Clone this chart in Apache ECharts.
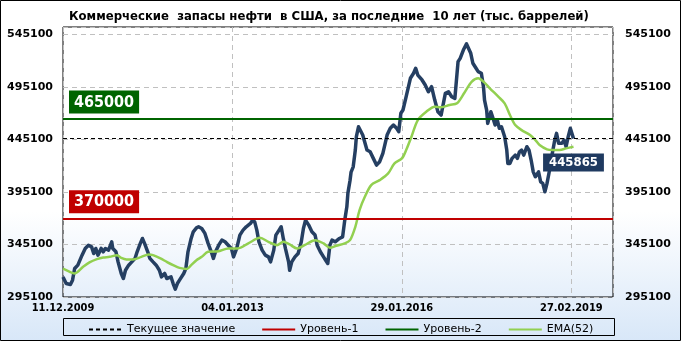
<!DOCTYPE html>
<html><head><meta charset="utf-8">
<script src="https://cdn.jsdelivr.net/npm/echarts@6/dist/echarts.min.js"></script>
<style>html,body{margin:0;padding:0;background:#fff}#c{width:681px;height:341px}</style>
</head><body><div id="c"></div>
<script>
// x positions are weeks since 11.12.2009
const tickLabels = ['11.12.2009', '04.01.2013', '29.01.2016', '27.02.2019'];
const stockWeeks = [0,3,7,9,11,14,18,21,24,27,29,31,33,36,38,40,43,46,47,50,52,55,57,59,62,65,68,70,73,75,77,80,82,85,88,91,93,96,98,102,104,106,108,110,114,116,118,121,123,126,128,131,134,137,140,142,144,147,150,153,156,159,161,164,167,170,173,177,179,181,183,185,188,191,194,196,199,201,204,206,208,210,213,214,216,219,222,225,227,229,232,235,238,240,243,246,248,250,252,254,257,259,261,264,266,268,269,271,272,274,276,277,279,280,283,287,290,293,296,299,302,306,309,312,315,317,319,321,324,328,331,333,335,339,342,345,348,351,354,357,361,364,367,370,373,375,378,381,385,387,390,392,395,397,398,400,401,404,406,408,410,412,414,417,419,420,422,424,427,429,431,433,435,438,440,442,444,446,449,451,453,455,457,460,462,464,466,468,471,473,475,477,479,482];
const stockValues = [314200,307900,307000,311100,322200,325400,334900,341300,344400,342800,336500,341300,334900,341300,338100,341300,339700,347600,341300,338100,328500,317500,312700,320600,325400,328500,331800,338100,346100,350800,346100,338100,331800,328500,325400,320600,314200,317500,312700,314200,307900,302500,307900,311100,317500,322200,338100,350800,357100,360900,361900,360300,355600,346100,338100,331800,338100,344400,349200,347600,344400,341300,333300,341300,354000,358700,361900,365100,368200,366600,358700,347600,339700,334900,333300,328500,339700,354000,358700,361900,350800,341300,328500,320600,328500,333300,336500,347600,360300,368200,363500,357100,354000,344400,338100,333300,330100,327000,344400,349200,347600,349200,350800,352300,368000,380900,393900,406000,414000,419000,434900,447600,457100,458700,449200,434900,433300,427000,420600,423800,431800,449200,455600,458700,455600,452400,469900,473000,485700,503200,508000,512700,506300,501600,496800,490400,495200,482500,471400,468200,488900,490400,485700,484100,519000,522200,530100,535900,527000,517500,512700,509500,508000,495200,482500,473000,460300,471400,465100,458700,463500,455600,457100,447600,434900,422200,422200,427000,430100,427000,433300,434900,430100,438100,434900,425400,414200,409500,414200,404700,403200,395200,403200,419000,431800,442800,450800,441300,441300,444400,438100,447600,455600,445865];
const emaWeeks = [0,5,11,19,25,32,38,44,51,55,60,66,74,81,85,92,98,104,110,117,121,126,131,137,147,156,165,175,186,194,202,208,214,221,228,238,246,252,258,266,271,276,280,285,291,299,307,313,320,324,329,335,343,351,357,365,372,379,386,392,397,403,411,417,422,427,433,441,446,450,457,462,469,475,482];
const emaValues = [322200,319700,317500,323800,328000,331100,332700,333300,334900,332300,330800,330800,333300,335600,334900,331800,328500,325400,322800,321800,325400,330100,333300,338100,338700,341300,341300,346100,351400,347600,344400,347600,345100,341300,344400,349200,346100,341900,343800,346100,349200,361900,377800,390400,401600,406300,412700,422200,427000,434900,447600,463500,471400,476200,475600,477800,479400,489500,500000,503200,500000,493700,485700,479400,468200,458700,453900,449200,444400,439700,435600,435000,435000,436500,438100];
const level1 = 370000;
const level2 = 465000;
const currentValue = 445865;

const FONT = '"DejaVu Sans Condensed", "DejaVu Sans", sans-serif';
const FONT_W = '"DejaVu Sans", sans-serif';
const chart = echarts.init(document.getElementById('c'), null, {renderer: 'canvas'});
const stockData = stockWeeks.map((w, i) => [w, stockValues[i]]);
const emaData = emaWeeks.map((w, i) => [w, emaValues[i]]);
const lastIdx = stockWeeks.length - 1;

function hLine(value, color, width, type, showLabel) {
  return {
    symbol: ['none', 'none'],
    silent: true,
    animation: false,
    lineStyle: {color: color, width: width, type: type},
    label: showLabel ? {
      show: true, position: 'insideStartTop', distance: [6, 5],
      formatter: String(value),
      backgroundColor: color, color: '#fff', fontFamily: FONT, fontWeight: 'bold',
      fontSize: 16, padding: [4, 5, 3, 5]
    } : {show: false},
    data: [{yAxis: value}]
  };
}

const yAxisCommon = {
  type: 'value', min: 295100, max: 552000, interval: 50000,
  axisLine: {show: false}, axisTick: {show: false},
  splitLine: {show: true, lineStyle: {color: '#c0c0c0', type: [5, 4], width: 1}},
  axisLabel: {color: '#000', fontFamily: FONT_W, fontWeight: 'bold', fontSize: 11, showMaxLabel: false,
    formatter: v => String(Math.round(v))}
};

chart.setOption({
  animation: false,
  backgroundColor: 'transparent',
  graphic: [{
    type: 'rect', z: -10, silent: true,
    shape: {x: 0.5, y: 0.5, width: 680, height: 340},
    style: {
      fill: new echarts.graphic.LinearGradient(0, 0, 0, 1, [
        {offset: 0, color: '#ffffff'}, {offset: 0.62, color: '#ffffff'}, {offset: 1, color: '#d8e7f8'}
      ]),
      stroke: '#000', lineWidth: 1
    }
  }, {
    type: 'rect', z: 1, silent: true,
    shape: {x: 63.5, y: 318.5, width: 551, height: 17},
    style: {fill: 'transparent', stroke: '#000', lineWidth: 1}
  }],
  title: {
    text: 'Коммерческие  запасы нефти  в США, за последние  10 лет (тыс. баррелей)',
    left: 64, top: 5,
    textStyle: {fontFamily: FONT, fontWeight: 'bold', fontSize: 13, color: '#000'}
  },
  legend: {
    left: 83, top: 319, itemGap: 26, itemWidth: 33, itemHeight: 10,
    itemStyle: {opacity: 0},
    textStyle: {fontFamily: FONT_W, fontSize: 11, color: '#000'},
    data: ['Текущее значение', 'Уровень-1', 'Уровень-2', 'EMA(52)']
  },
  grid: {left: 63, right: 68, top: 27, bottom: 44, show: true, borderColor: '#000', borderWidth: 1, backgroundColor: 'transparent'},
  xAxis: {
    type: 'value', min: 0, max: 519.3, interval: 160,
    axisLine: {show: false}, axisTick: {show: false},
    splitLine: {show: true, lineStyle: {color: '#c0c0c0', type: [5, 4], width: 1}},
    axisLabel: {
      color: '#000', fontFamily: FONT, fontWeight: 'bold', fontSize: 11, margin: 6, showMaxLabel: false,
      formatter: v => (v % 160 === 0 && tickLabels[v / 160]) ? tickLabels[v / 160] : ''
    }
  },
  yAxis: [
    Object.assign({}, yAxisCommon, {position: 'left', axisLabel: Object.assign({}, yAxisCommon.axisLabel, {margin: 10})}),
    Object.assign({}, yAxisCommon, {position: 'right', splitLine: {show: false}, axisLabel: Object.assign({}, yAxisCommon.axisLabel, {margin: 12})})
  ],
  series: [
    {
      name: 'Запасы', type: 'line', data: stockData, symbol: 'none', z: 3,
      lineStyle: {color: '#253F62', width: 3.5, join: 'round'},
      itemStyle: {color: '#253F62'},
      markPoint: {
        symbol: 'rect', symbolSize: 1, itemStyle: {color: 'rgba(0,0,0,0)'}, silent: true,
        label: {
          show: true, position: 'inside', offset: [0, 24],
          formatter: String(stockValues[lastIdx]),
          backgroundColor: '#1F3A60', color: '#fff', fontFamily: FONT, fontWeight: 'bold',
          fontSize: 13, padding: [3, 6, 2, 6]
        },
        data: [{coord: [stockWeeks[lastIdx], stockValues[lastIdx]]}]
      }
    },
    {
      name: 'EMA(52)', type: 'line', data: emaData, symbol: 'none', smooth: 0.3, z: 4,
      lineStyle: {color: '#92D050', width: 2.5}, itemStyle: {color: '#92D050'}
    },
    {
      name: 'Текущее значение', type: 'line', data: [], symbol: 'none', z: 5,
      lineStyle: {color: '#000', width: 1, type: [4, 3]}, itemStyle: {color: '#000'},
      markLine: hLine(currentValue, '#000', 1, [4, 3], false)
    },
    {
      name: 'Уровень-1', type: 'line', data: [], symbol: 'none', z: 5,
      lineStyle: {color: '#C00000', width: 2.5}, itemStyle: {color: '#C00000'},
      markLine: hLine(level1, '#C00000', 2, 'solid', true)
    },
    {
      name: 'Уровень-2', type: 'line', data: [], symbol: 'none', z: 5,
      lineStyle: {color: '#006400', width: 2.5}, itemStyle: {color: '#006400'},
      markLine: hLine(level2, '#006400', 2, 'solid', true)
    }
  ]
});
</script></body></html>
